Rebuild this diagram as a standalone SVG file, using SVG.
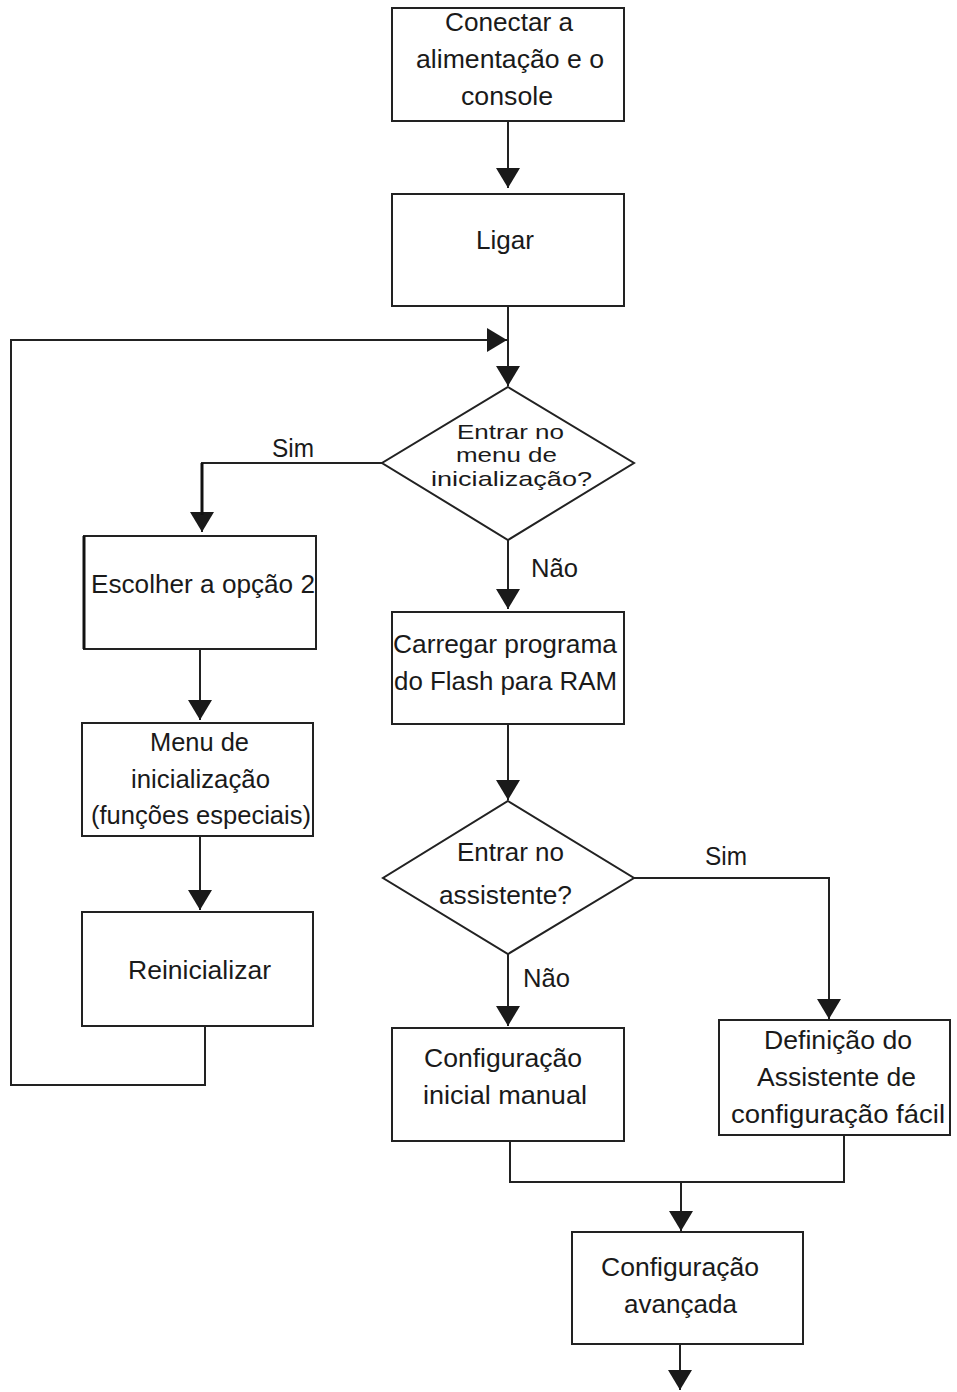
<svg xmlns="http://www.w3.org/2000/svg" width="957" height="1392" viewBox="0 0 957 1392">
<defs>
<marker id="ah" viewBox="0 0 20 24" markerWidth="20" markerHeight="24" refX="20" refY="12" orient="auto" markerUnits="userSpaceOnUse">
<path d="M0,0 L20,12 L0,24 z" fill="#1a1a1a"/>
</marker>
<style>
.box{fill:#fff;stroke:#222;stroke-width:2}
.ln{fill:none;stroke:#222;stroke-width:2}
.ar{fill:none;stroke:#222;stroke-width:2;marker-end:url(#ah)}
text{font-family:"Liberation Sans Narrow","Liberation Sans",Arial,sans-serif;font-size:26px;fill:#1a1a1a}
.tight{font-size:21px}
</style>
</defs>
<rect width="957" height="1392" fill="#fff"/>
<g id="connectors">
<line class="ar" x1="508" y1="121" x2="508" y2="188"/>
<line class="ar" x1="508" y1="306" x2="508" y2="386"/>
<polyline class="ar" points="205,1026 205,1085 11,1085 11,340 507,340"/>
<polyline class="ar" points="382,463 202,463 202,532"/>
<line x1="202" y1="463" x2="202" y2="515" stroke="#111" stroke-width="3"/>
<line class="ar" x1="508" y1="540" x2="508" y2="609"/>
<line class="ar" x1="200" y1="649" x2="200" y2="720"/>
<line class="ar" x1="200" y1="836" x2="200" y2="910"/>
<line class="ar" x1="508" y1="724" x2="508" y2="800"/>
<polyline class="ar" points="634,878 829,878 829,1019"/>
<line class="ar" x1="508" y1="954" x2="508" y2="1026"/>
<polyline class="ln" points="510,1141 510,1182 844,1182 844,1135"/>
<line class="ar" x1="681" y1="1182" x2="681" y2="1231"/>
<line class="ar" x1="680" y1="1344" x2="680" y2="1390"/>
<text x="272" y="457" textLength="42" lengthAdjust="spacingAndGlyphs">Sim</text>
<text x="531" y="577" textLength="47" lengthAdjust="spacingAndGlyphs">Não</text>
<text x="705" y="865" textLength="42" lengthAdjust="spacingAndGlyphs">Sim</text>
<text x="523" y="987" textLength="47" lengthAdjust="spacingAndGlyphs">Não</text>
</g>
<g id="n1">
<rect class="box" x="392" y="8" width="232" height="113"/>
<text x="445" y="31" textLength="128" lengthAdjust="spacingAndGlyphs">Conectar a</text>
<text x="416" y="68" textLength="188" lengthAdjust="spacingAndGlyphs">alimentação e o</text>
<text x="461" y="105" textLength="92" lengthAdjust="spacingAndGlyphs">console</text>
</g>
<g id="n2">
<rect class="box" x="392" y="194" width="232" height="112"/>
<text x="476" y="249" textLength="58" lengthAdjust="spacingAndGlyphs">Ligar</text>
</g>
<g id="d1">
<polygon class="box" points="508,387 634,463 508,540 382,463"/>
<text class="tight" x="457" y="439" textLength="107" lengthAdjust="spacingAndGlyphs">Entrar no</text>
<text class="tight" x="456" y="462" textLength="101" lengthAdjust="spacingAndGlyphs">menu de</text>
<text class="tight" x="431" y="486" textLength="161" lengthAdjust="spacingAndGlyphs">inicialização?</text>
</g>
<g id="n3">
<rect class="box" x="84" y="536" width="232" height="113"/>
<line x1="84" y1="536" x2="84" y2="649" stroke="#111" stroke-width="3"/>
<text x="91" y="593" textLength="224" lengthAdjust="spacingAndGlyphs">Escolher a opção 2</text>
</g>
<g id="n4">
<rect class="box" x="82" y="723" width="231" height="113"/>
<text x="150" y="751" textLength="99" lengthAdjust="spacingAndGlyphs">Menu de</text>
<text x="131" y="788" textLength="139" lengthAdjust="spacingAndGlyphs">inicialização</text>
<text x="91" y="824" textLength="220" lengthAdjust="spacingAndGlyphs">(funções especiais)</text>
</g>
<g id="n5">
<rect class="box" x="82" y="912" width="231" height="114"/>
<text x="128" y="979" textLength="143" lengthAdjust="spacingAndGlyphs">Reinicializar</text>
</g>
<g id="n6">
<rect class="box" x="392" y="612" width="232" height="112"/>
<text x="393" y="653" textLength="224" lengthAdjust="spacingAndGlyphs">Carregar programa</text>
<text x="394" y="690" textLength="223" lengthAdjust="spacingAndGlyphs">do Flash para RAM</text>
</g>
<g id="d2">
<polygon class="box" points="508,801 634,878 508,954 383,878"/>
<text x="457" y="861" textLength="107" lengthAdjust="spacingAndGlyphs">Entrar no</text>
<text x="439" y="904" textLength="133" lengthAdjust="spacingAndGlyphs">assistente?</text>
</g>
<g id="n7">
<rect class="box" x="392" y="1028" width="232" height="113"/>
<text x="424" y="1067" textLength="158" lengthAdjust="spacingAndGlyphs">Configuração</text>
<text x="423" y="1104" textLength="164" lengthAdjust="spacingAndGlyphs">inicial manual</text>
</g>
<g id="n8">
<rect class="box" x="719" y="1020" width="231" height="115"/>
<text x="764" y="1049" textLength="148" lengthAdjust="spacingAndGlyphs">Definição do</text>
<text x="757" y="1086" textLength="159" lengthAdjust="spacingAndGlyphs">Assistente de</text>
<text x="731" y="1123" textLength="214" lengthAdjust="spacingAndGlyphs">configuração fácil</text>
</g>
<g id="n9">
<rect class="box" x="572" y="1232" width="231" height="112"/>
<text x="601" y="1276" textLength="158" lengthAdjust="spacingAndGlyphs">Configuração</text>
<text x="624" y="1313" textLength="113" lengthAdjust="spacingAndGlyphs">avançada</text>
</g>
</svg>
